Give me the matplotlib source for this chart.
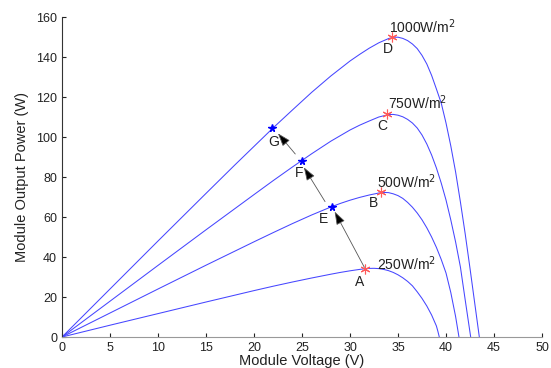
import matplotlib
matplotlib.use("Agg")
import matplotlib.pyplot as plt

plt.rcParams['font.family'] = ['Liberation Sans', 'DejaVu Sans']

# P-V curves (voltage V, power W)
v1000 = [0, 5, 10, 15, 18, 20, 22, 24, 26, 28, 30, 31, 32, 33, 34, 34.5, 35, 35.5, 36, 36.5, 37,
         37.5, 38, 38.5, 39, 39.5, 40, 40.5, 41, 41.5, 42, 42.5, 43, 43.47]
p1000 = [0, 24.0, 48.0, 71.8, 86.0, 95.3, 104.6, 113.5, 122.3, 130.5, 138.0, 141.3, 144.4, 147.1, 149.2,
         149.9, 149.9, 149.3, 148.2, 146.5, 144.2, 140.8, 136.5, 130.8, 124.0, 117.0, 107.0, 95.5, 82.5,
         67.5, 51.5, 34.3, 16.6, 0]

v750 = [0, 5, 10, 15, 20, 22, 24, 26, 28, 30, 31, 32, 33, 34, 34.5, 35, 35.5, 36, 36.5, 37, 37.5,
        38, 38.5, 39, 39.5, 40, 40.5, 41, 41.5, 42, 42.57]
p750 = [0, 17.9, 35.8, 53.6, 71.2, 78.2, 85.0, 91.6, 97.9, 103.5, 105.9, 108.0, 110.0, 111.2, 111.3,
        110.9, 110.1, 108.8, 107.0, 104.5, 101.0, 96.5, 91.0, 84.5, 77.0, 68.5, 58.5, 47.5, 35.0, 18.5, 0]

v500 = [0, 5, 10, 15, 20, 22, 24, 26, 28, 29, 30, 31, 32, 33, 33.5, 34, 34.5, 35, 35.5, 36, 36.5,
        37, 37.5, 38, 38.5, 39, 39.5, 40, 40.5, 41, 41.35]
p500 = [0, 12.0, 24.0, 35.9, 47.6, 52.2, 56.7, 61.0, 65.0, 66.8, 68.4, 69.8, 71.0, 72.0, 72.3, 72.2,
        71.6, 70.7, 69.3, 67.3, 64.9, 62.0, 58.6, 54.6, 50.0, 44.8, 38.8, 32.0, 22.2, 10.2, 0]

v250 = [0, 5, 10, 15, 20, 22, 24, 26, 28, 29, 30, 31, 31.5, 32, 32.5, 33, 33.5, 34, 34.5, 35, 35.5,
        36, 36.5, 37, 37.5, 38, 38.5, 39, 39.15, 39.3]
p250 = [0, 5.9, 11.7, 17.5, 23.2, 25.4, 27.5, 29.5, 31.4, 32.3, 33.1, 33.8, 34.1, 34.3, 34.35, 34.2,
        33.8, 33.2, 32.3, 31.1, 29.6, 27.8, 25.6, 22.6, 19.3, 15.5, 11.0, 5.5, 2.9, 0]

# maximum power points (red) and tracking points (blue)
mpp_names = ['A', 'B', 'C', 'D']
mpp_v = [31.56, 33.2, 33.9, 34.4]
mpp_p = [34.2, 72.3, 111.3, 150.0]
mpp_label_xy = [(31.0, 27.7), (32.4, 67), (33.4, 105.5), (33.9, 144)]

trk_names = ['E', 'F', 'G']
trk_v = [28.1, 25.0, 21.9]
trk_p = [65.2, 88.2, 104.7]
trk_label_xy = [(27.2, 58.8), (24.7, 81.8), (22.0, 97.7)]

# arrows: (tail, head)
arrows = [((31.5, 34.8), (28.4, 62.7)),
          ((27.4, 67.7), (25.2, 84.8)),
          ((24.3, 91.5), (22.5, 101.8))]

irr_labels = ['250W/m$^2$', '500W/m$^2$', '750W/m$^2$', '1000W/m$^2$']
irr_xy = [(32.8, 36.8), (32.85, 77.7), (34.0, 117), (34.1, 155)]

fig = plt.figure(figsize=(5.51, 3.68), dpi=100)
ax = fig.add_axes([0.1125, 0.0842, 0.8712, 0.8696])

line_col = '#4646ff'
for v, p in [(v1000, p1000), (v750, p750), (v500, p500), (v250, p250)]:
    ax.plot(v, p, color=line_col, lw=0.75)

for (x0, y0), (x1, y1) in arrows:
    ax.annotate('', xy=(x1, y1), xytext=(x0, y0),
                arrowprops=dict(arrowstyle='-|>,head_length=0.8,head_width=0.28',
                                fc='black', ec='#555555', lw=0.6, shrinkA=0, shrinkB=0))

ax.plot(mpp_v, mpp_p, linestyle='none', marker=(6, 2, 0), color='#ff5a5a',
        markersize=7, markeredgewidth=0.8)
ax.plot(trk_v, trk_p, linestyle='none', marker='*', color='blue',
        markersize=5.5)

for name, (x, y) in zip(mpp_names + trk_names, mpp_label_xy + trk_label_xy):
    ax.text(x, y, name, fontsize=10, ha='center', va='center', color='#222222')

for lab, (x, y) in zip(irr_labels, irr_xy):
    ax.text(x, y, lab, fontsize=10, ha='left', va='center', color='#222222')

ax.set_xlim(0, 50)
ax.set_ylim(0, 160)
ax.set_xticks(range(0, 51, 5))
ax.set_yticks(range(0, 161, 20))
ax.tick_params(direction='in', length=3, labelsize=9, colors='#222222')
ax.spines['top'].set_visible(False)
ax.spines['right'].set_visible(False)
ax.spines['bottom'].set_color('#999999')
ax.spines['left'].set_color('#333333')
ax.set_xlabel('Module Voltage (V)', fontsize=10.5, color='#222222', labelpad=0)
ax.set_ylabel('Module Output Power (W)', fontsize=10.5, color='#222222', labelpad=5)

fig.savefig('out.png', dpi=100)
